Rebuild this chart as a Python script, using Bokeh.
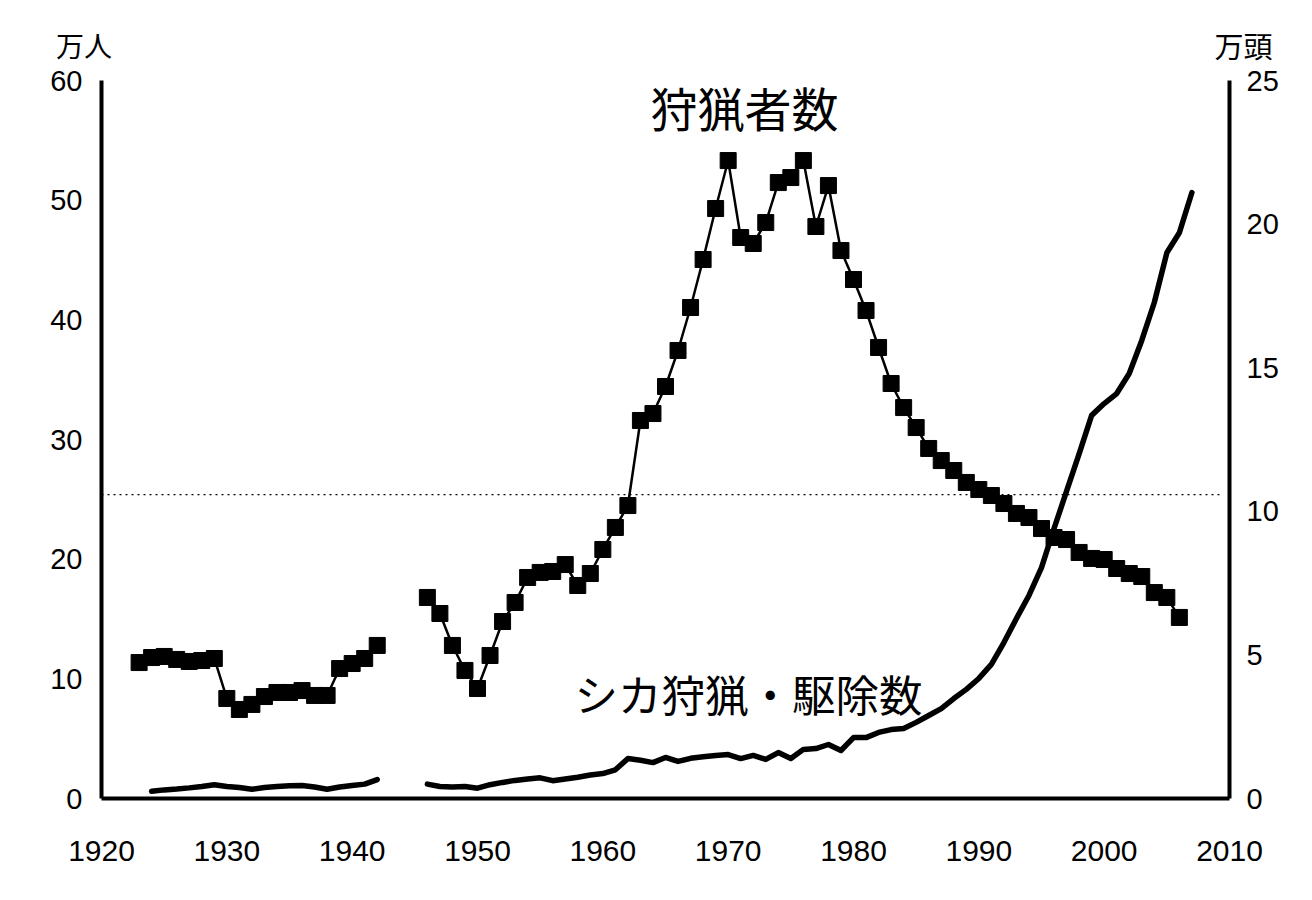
from bokeh.plotting import figure
from bokeh.models import Range1d, LinearAxis, FixedTicker, Label
from bokeh.embed import file_html
from bokeh.resources import INLINE

# ---- data ----
hunter_years_pre = list(range(1923, 1943))
hunters_pre = [11.36, 11.78, 11.87, 11.62, 11.45, 11.53, 11.7, 8.36, 7.44, 7.86,
               8.52, 8.86, 8.86, 9.02, 8.61, 8.61, 10.86, 11.28, 11.7, 12.79]
hunter_years_post = list(range(1946, 2007))
hunters_post = [16.8, 15.46, 12.79, 10.7, 9.19, 11.95, 14.79, 16.38, 18.47, 18.89,
                18.97, 19.55, 17.8, 18.8, 20.81, 22.65, 24.48, 31.59, 32.17, 34.43,
                37.44, 41.03, 45.04, 49.3, 53.31, 46.88, 46.38, 48.13, 51.47, 51.89,
                53.31, 47.8, 51.22, 45.79, 43.37, 40.78, 37.69, 34.68, 32.67, 31.0,
                29.25, 28.24, 27.41, 26.41, 25.82, 25.32, 24.65, 23.82, 23.48, 22.56,
                21.81, 21.64, 20.56, 20.06, 19.97, 19.22, 18.8, 18.55, 17.21, 16.8,
                15.13]
deer_years_pre = list(range(1924, 1943))
deer_pre = [0.25, 0.3, 0.33, 0.37, 0.42, 0.48, 0.42, 0.38, 0.32, 0.38,
            0.42, 0.44, 0.45, 0.4, 0.32, 0.4, 0.45, 0.5, 0.66]
deer_years_post = list(range(1946, 2008))
deer_post = [0.5, 0.42, 0.4, 0.42, 0.36, 0.48, 0.56, 0.63, 0.68, 0.72,
             0.62, 0.68, 0.74, 0.82, 0.87, 1.0, 1.39, 1.33, 1.25, 1.43,
             1.29, 1.4, 1.45, 1.5, 1.53, 1.39, 1.5, 1.36, 1.6, 1.39,
             1.71, 1.74, 1.88, 1.67, 2.12, 2.12, 2.3, 2.4, 2.44, 2.65,
             2.89, 3.13, 3.48, 3.8, 4.18, 4.67, 5.43, 6.27, 7.07, 8.04,
             9.4, 10.7, 12.0, 13.34, 13.75, 14.1, 14.8, 15.95, 17.27, 19.0,
             19.7, 21.1]
ref_level = 25.4
x_ticks = [1920, 1930, 1940, 1950, 1960, 1970, 1980, 1990, 2000, 2010]
left_ticks = [0, 10, 20, 30, 40, 50, 60]
right_ticks = [0, 5, 10, 15, 20, 25]
title_text = "狩猟者数"
deer_text = "シカ狩猟・駆除数"
left_unit = "万人"
right_unit = "万頭"

JP = "Noto Sans CJK JP"
NUM = "Liberation Sans"

# layout: the frame covers the whole canvas, axes are drawn at fixed locations
W, H = 1296, 884
ax_left_px, ax_right_px, ax_bottom_px, ax_top_px = 101, 1229, 798, 80
x0, x1 = x_ticks[0], x_ticks[-1]
yl0, yl1 = left_ticks[0], left_ticks[-1]
yr0, yr1 = right_ticks[0], right_ticks[-1]
ppx = (ax_right_px - ax_left_px) / (x1 - x0)
ppy = (ax_bottom_px - ax_top_px) / (yl1 - yl0)
x_range = Range1d(x0 - ax_left_px / ppx, x0 + (W - ax_left_px) / ppx)
yl_start = yl0 - (H - ax_bottom_px) / ppy
yl_end = yl0 + ax_bottom_px / ppy
k = (yr1 - yr0) / (yl1 - yl0)
y_range = Range1d(yl_start, yl_end)

p = figure(width=W, height=H, output_backend="svg", toolbar_location=None,
           title=None, x_range=x_range, y_range=y_range,
           min_border_left=0, min_border_right=0, min_border_top=0,
           min_border_bottom=0)
p.extra_y_ranges = {"deer": Range1d(yl_start * k, yl_end * k)}
p.outline_line_color = None
p.xgrid.visible = False
p.ygrid.visible = False
p.background_fill_color = "white"

def style_axis(ax, ticks, standoff, size="30px"):
    ax.ticker = FixedTicker(ticks=ticks)
    ax.axis_line_width = 4
    ax.axis_line_color = "black"
    ax.major_tick_line_color = None
    ax.minor_tick_line_color = None
    ax.major_label_text_font = NUM
    ax.major_label_text_font_size = size
    ax.major_label_text_color = "black"
    ax.major_label_standoff = standoff

xa = p.xaxis[0]
style_axis(xa, x_ticks, 36)
xa.fixed_location = yl0
xa.bounds = (x0, x1)

ya = p.yaxis[0]
style_axis(ya, left_ticks, 13, "29px")
ya.fixed_location = x0
ya.bounds = (yl0, yl1)

raxis = LinearAxis(y_range_name="deer")
style_axis(raxis, right_ticks, 11, "29px")
raxis.fixed_location = x1
raxis.bounds = (yr0, yr1)
p.add_layout(raxis, "right")

# dotted reference line
p.line([x0, x1 - 0.5], [ref_level, ref_level], line_color="black",
       line_width=1.3, line_dash="2 4")

for xs, ys in [(hunter_years_pre, hunters_pre), (hunter_years_post, hunters_post)]:
    p.line(xs, ys, line_color="black", line_width=2.5)
    p.scatter(xs, ys, marker="square", size=16, fill_color="black", line_color="black")

for xs, ys in [(deer_years_pre, deer_pre), (deer_years_post, deer_post)]:
    p.line(xs, ys, line_color="black", line_width=5.5, y_range_name="deer",
           line_cap="round", line_join="round")

def add_label(x, y, text, size):
    p.add_layout(Label(x=x, y=y, text=text, text_font=JP, text_font_size=size,
                       text_align="center", text_baseline="middle", text_color="black"))

add_label(1971.3, 57.83, title_text, "47px")
add_label(1971.62, 8.77, deer_text, "43.5px")
add_label(1918.6, 63.0, left_unit, "28px")
add_label(2011.12, 63.0, right_unit, "29px")

open("out.html", "w").write(file_html(p, INLINE))
